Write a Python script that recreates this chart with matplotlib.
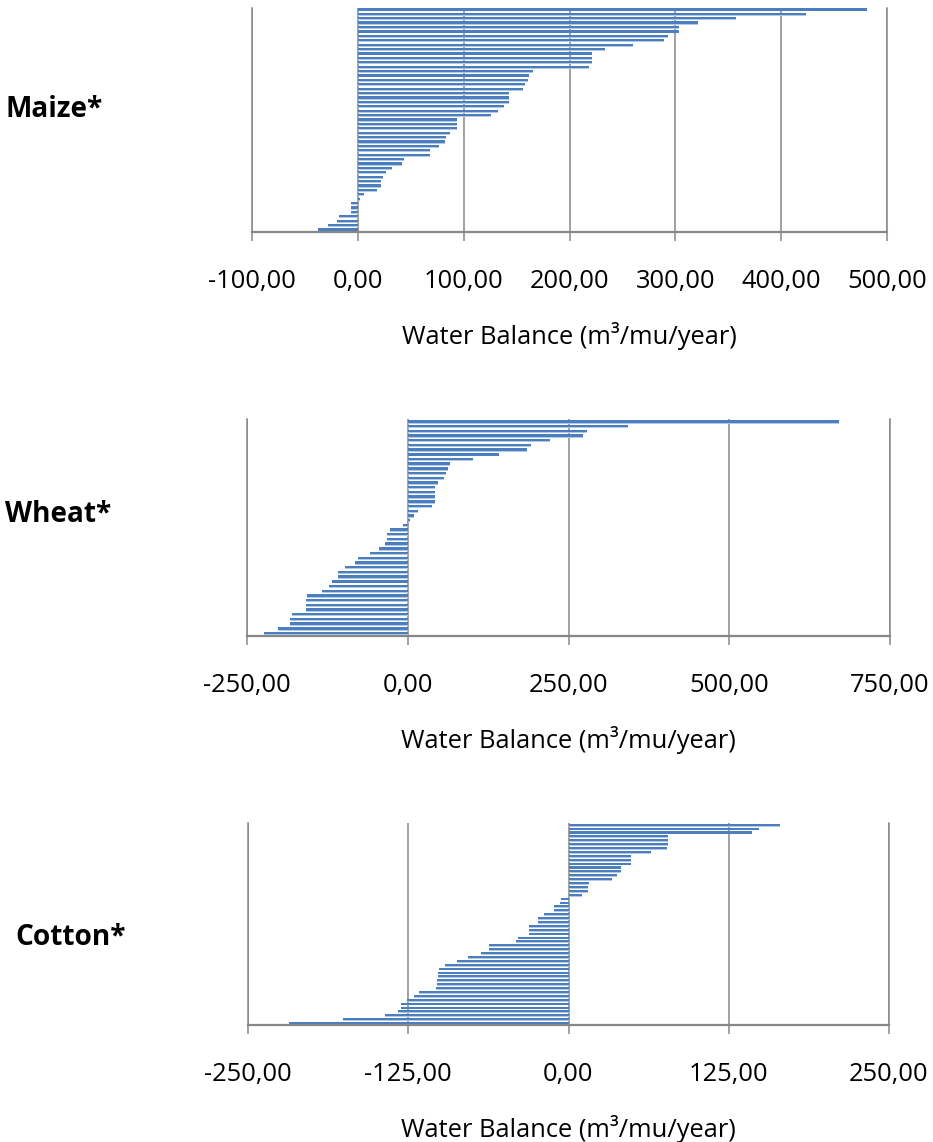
"""Water balance per county for maize, wheat and cotton, sorted bar strips."""

import matplotlib
matplotlib.use("Agg")
import matplotlib.pyplot as plt
import numpy as np


MAIZE = [
    480.7, 423.8, 357.3, 321.5, 303.6, 303.6, 293.3, 288.9, 260.2, 233.2,
    221.6, 221.6, 221.6, 218.5, 165.5, 162.0, 160.4, 158.4, 156.0, 143.3,
    143.3, 143.3, 137.7, 132.9, 126.1, 93.5, 93.5, 93.5, 86.7, 83.6,
    82.8, 76.8, 68.0, 68.0, 43.4, 41.8, 32.2, 26.7, 23.5, 21.5,
    21.5, 17.9, 6.0, 1.6, -6.4, -6.8, -6.8, -17.5, -19.9, -28.3, -37.8,
]
WHEAT = [
    670, 342, 279, 273, 222, 191, 186, 142, 102, 66,
    62, 60, 57, 47, 42, 42, 42, 42, 37, 16,
    9, 3, -7, -28, -33, -33, -36, -44, -59, -78,
    -82, -98, -108, -108, -118, -122, -133, -156, -158, -158,
    -158, -180, -183, -183, -202, -223,
]
COTTON = [
    165.3, 148.7, 143.0, 78.0, 78.0, 78.0, 76.7, 64.3, 48.7, 48.7,
    48.7, 41.0, 41.0, 37.7, 34.3, 16.0, 15.3, 15.3, 10.3, -6.0,
    -6.3, -11.3, -11.3, -19.0, -24.0, -24.0, -30.7, -31.0, -31.0, -39.3,
    -40.7, -62.0, -62.0, -68.0, -78.7, -87.0, -96.0, -101.0, -101.7, -102.0,
    -102.7, -102.7, -103.3, -116.7, -120.3, -126.0, -130.3, -130.3, -132.7, -143.3,
    -176.0, -217.7,
]

CROPS = ["Maize*", "Wheat*", "Cotton*"]
XTICKS = [
    [-100, 0, 100, 200, 300, 400, 500],
    [-250, 0, 250, 500, 750],
    [-250, -125, 0, 125, 250],
]
XLABEL = "Water Balance (m³/mu/year)"

W, H = 933, 1142
# axes boxes in pixels: left, right, top, bottom
BOXES = [
    (252, 887, 7.5, 232),
    (247, 890, 419.3, 635.7),
    (248, 889, 823, 1025.3),
]
# crop name: left edge and baseline in pixels
NAME_POS = [(5, 117), (5, 522), (15, 945)]

GRID = "#878787"
BAR = "#4A7EBF"
GLOW = "#B4C9E4"
FONT = "Open Sans"

plt.rcParams.update({"font.family": [FONT, "DejaVu Sans"], "font.size": 18.4})

fig = plt.figure(figsize=(W / 100, H / 100), dpi=100)

for values, name, ticks, box, npos in zip(
    [MAIZE, WHEAT, COTTON], CROPS, XTICKS, BOXES, NAME_POS
):
    left, right, top, bottom = box
    ax = fig.add_axes([left / W, 1 - bottom / H, (right - left) / W, (bottom - top) / H])
    y = np.arange(len(values))
    vals = np.array(values)
    # light halo under each bar, then the bar itself
    ax.barh(y + 0.22, vals, height=0.36, color=GLOW, linewidth=0, zorder=2)
    ax.barh(y - 0.06, vals, height=0.52, color=BAR, linewidth=0, zorder=3)
    ax.set_ylim(len(values) - 0.5, -0.5)
    ax.set_xlim(ticks[0], ticks[-1])
    ax.set_yticks([])
    ax.set_xticks(ticks, [f"{t:.2f}".replace(".", ",") for t in ticks])
    ax.grid(axis="x", color=GRID, linewidth=1.1, zorder=1)
    ax.set_axisbelow(True)
    for side in ["left", "right"]:
        ax.spines[side].set_color(GRID)
        ax.spines[side].set_linewidth(1.1)
    ax.spines["top"].set_visible(False)
    ax.spines["bottom"].set_color(GRID)
    ax.spines["bottom"].set_linewidth(1.6)
    ax.spines["bottom"].set_zorder(4)
    ax.tick_params(axis="x", direction="out", length=6.5, width=1.1, color=GRID,
                   pad=33.8, labelsize=18.4, labelcolor="black")
    for lbl in ax.get_xticklabels():
        lbl.set_verticalalignment("baseline")
    axes_h = bottom - top
    ax.set_xlabel(XLABEL, fontsize=18.4, va="baseline")
    ax.xaxis.set_label_coords(0.5, -112 / axes_h)
    fig.text(npos[0] / W, 1 - npos[1] / H, name, fontsize=20.2,
             fontweight="bold", ha="left", va="baseline")

fig.savefig("out.png", dpi=100)
